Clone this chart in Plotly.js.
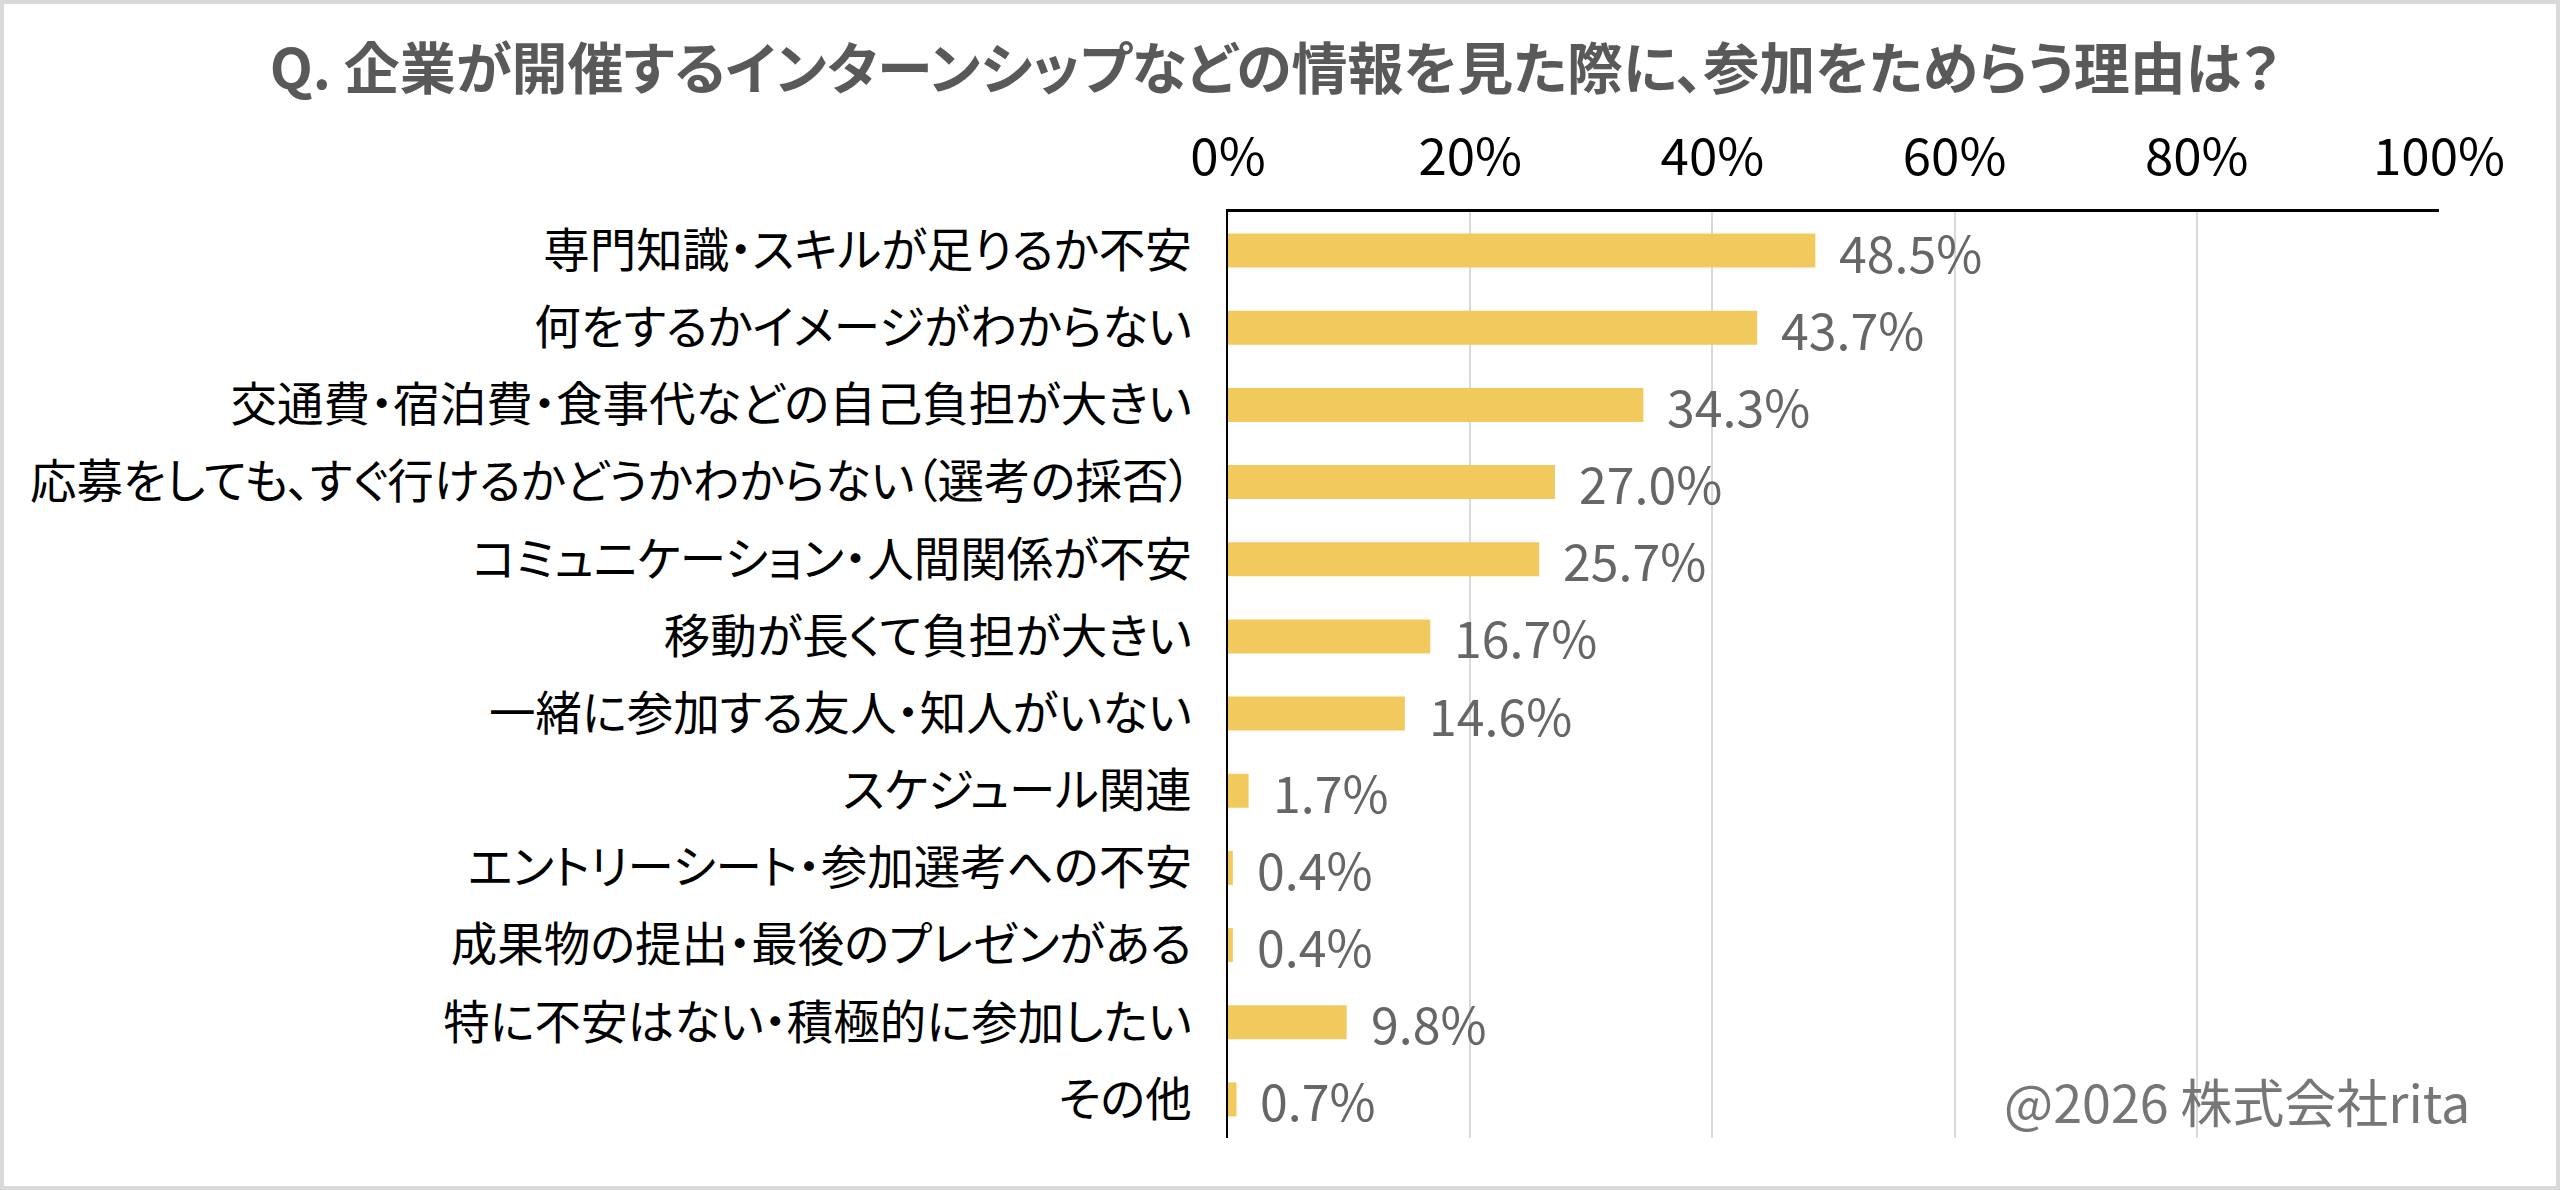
<!DOCTYPE html>
<html>
<head>
<meta charset="utf-8">
<script src="https://cdn.plot.ly/plotly-3.0.1.min.js"></script>
<style>
  html, body { margin: 0; padding: 0; background: #fff; }
  #frame {
    width: 2560px; height: 1190px;
    box-sizing: border-box;
    border: 4px solid #d9d9d9;
    background: #fff;
  }
  #myPlot { width: 2552px; height: 1182px; }
  /* proportional kana and punctuation, closer to the original office font */
  #myPlot svg text { font-feature-settings: "palt" 1; }
</style>
</head>
<body>
<div id="frame"><div id="myPlot"></div></div>
<script>
// Q. 企業が開催するインターンシップなどの情報を見た際に、参加をためらう理由は？
var categories = [
    "専門知識・スキルが足りるか不安",
    "何をするかイメージがわからない",
    "交通費・宿泊費・食事代などの自己負担が大きい",
    "応募をしても、すぐ行けるかどうかわからない（選考の採否）",
    "コミュニケーション・人間関係が不安",
    "移動が長くて負担が大きい",
    "一緒に参加する友人・知人がいない",
    "スケジュール関連",
    "エントリーシート・参加選考への不安",
    "成果物の提出・最後のプレゼンがある",
    "特に不安はない・積極的に参加したい",
    "その他"
];
var values = [48.5, 43.7, 34.3, 27.0, 25.7, 16.7, 14.6, 1.7, 0.4, 0.4, 9.8, 0.7];

var tickVals = [0, 20, 40, 60, 80, 100];
var tickText = ["0%", "20%", "40%", "60%", "80%", "100%"];

var titleText = "Q. 企業が開催するインターンシップなどの情報を見た際に、参加をためらう理由は？";
var creditText = "@2026 株式会社rita";

var jpFont = '"Noto Sans CJK JP", "Noto Sans", sans-serif';

// bars
var trace1 = {
    x: values,
    y: categories,
    type: 'bar',
    orientation: 'h',
    width: 0.44,
    marker: { color: '#F2C95C' },
    hoverinfo: 'skip',
    showlegend: false
};

// value labels just past each bar end
var labels = [];
for (var i = 0; i < values.length; ++i) {
    labels.push({
        x: values[i],
        y: categories[i],
        xref: 'x',
        yref: 'y',
        text: values[i].toFixed(1) + '%',
        showarrow: false,
        xanchor: 'left',
        yanchor: 'middle',
        xshift: 22,
        font: { family: jpFont, size: 50, color: '#666666' }
    });
}

// credit in the bottom right
labels.push({
    x: 1.027,
    y: 0.041,
    xref: 'paper',
    yref: 'paper',
    text: creditText,
    showarrow: false,
    xanchor: 'right',
    yanchor: 'middle',
    font: { family: jpFont, size: 52, color: '#767676' }
});

var layout = {
    width: 2552,
    height: 1182,
    paper_bgcolor: '#ffffff',
    plot_bgcolor: '#ffffff',
    margin: { l: 1224, r: 117, t: 208, b: 48 },
    font: { family: jpFont, color: '#000000' },
    title: {
        text: titleText,
        x: 0.498,
        xref: 'container',
        xanchor: 'center',
        y: 0.945,
        yref: 'container',
        yanchor: 'middle',
        font: { family: jpFont, size: 56, color: '#595959', weight: 'bold' }
    },
    xaxis: {
        side: 'top',
        range: [0, 100],
        tickvals: tickVals,
        ticktext: tickText,
        tickfont: { family: jpFont, size: 51, color: '#000000' },
        ticks: '',
        ticklabelstandoff: 14,
        showgrid: true,
        gridcolor: '#d9d9d9',
        gridwidth: 2,
        zeroline: false,
        showline: true,
        linecolor: '#000000',
        linewidth: 3,
        fixedrange: true
    },
    yaxis: {
        autorange: 'reversed',
        tickfont: { family: jpFont, size: 46.5, color: '#000000' },
        ticks: '',
        ticklabelstandoff: 25,
        showgrid: false,
        zeroline: false,
        showline: true,
        linecolor: '#000000',
        linewidth: 2,
        fixedrange: true
    },
    annotations: labels,
    bargap: 0.56
};

var config = { displayModeBar: false, staticPlot: true };

Plotly.newPlot("myPlot", [trace1], layout, config);
</script>
</body>
</html>
